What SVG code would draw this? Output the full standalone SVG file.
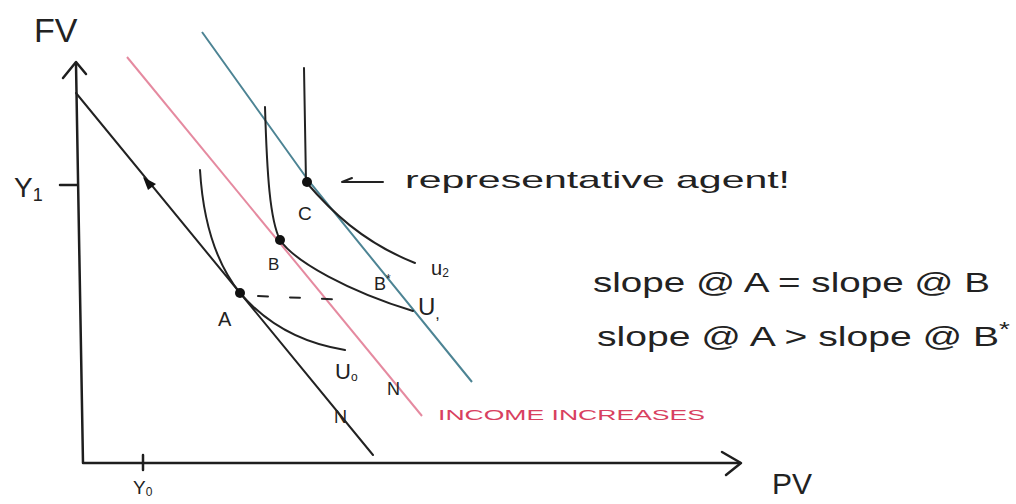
<svg xmlns="http://www.w3.org/2000/svg" width="1016" height="504" viewBox="0 0 1016 504">
<style>
.ax{stroke:#1e1e1e;stroke-width:2.5;fill:none;stroke-linecap:round;stroke-linejoin:round}
.blk{stroke:#222;stroke-width:2;fill:none;stroke-linecap:round}
.pink{stroke:#e58aa0;stroke-width:2;fill:none}
.blue{stroke:#4d8494;stroke-width:2;fill:none}
.t{font-family:"Liberation Sans",Arial,sans-serif;fill:#222}
.dot{fill:#111}
</style>
<rect width="1016" height="504" fill="#ffffff"/>
<g id="axes">
<path class="ax" d="M76,64 L83,463 L740,463"/>
<path class="ax" d="M63,78 L76,62 L86,74"/>
<path class="ax" d="M722,452 L741,463 L726,475"/>
<path class="ax" d="M60,185 L77,185"/>
<path class="ax" d="M143,455 L143,470"/>
<text class="t" x="34" y="42" font-size="34">FV</text>
<text class="t" x="772" y="494" font-size="30">PV</text>
<text class="t" x="14" y="197" font-size="28">Y<tspan font-size="18" dy="4">1</tspan></text>
<text class="t" x="133" y="494" font-size="19">Y<tspan font-size="12" dy="2">0</tspan></text>
</g>
<g id="connectors">
<path id="budget0" class="blk" d="M76,93 L373,455"/>
<path class="dot" d="M143,177 L156,184 L148,190 Z"/>
<path id="budget1" class="pink" d="M127,57 L422,416"/>
<path id="budget2" class="blue" d="M202,32 L308,180 L472,382"/>
<path id="U0curve" class="blk" d="M200,170 C203,220 215,262 240,293 C265,322 300,343 345,350"/>
<path id="U1curve" class="blk" d="M265,107 C267,175 270,220 280,240"/>
<path class="blk" stroke-width="3" d="M280,240 C295,262 350,292 413,311"/>
<path id="U2curve" class="blk" stroke-width="4" d="M304,68 L306,182"/>
<path class="blk" stroke-width="2.5" d="M306,182 C330,210 362,242 415,263"/>
<path class="blk" stroke="#888" stroke-width="1.5" stroke-dasharray="10,22" d="M258,296 L350,300"/>
<path class="blk" d="M342,182 L383,182 M342,182 L352,178"/>
</g>
<g id="pointA">
<circle class="dot" cx="240" cy="293" r="5"/>
<text class="t" x="218" y="326" font-size="20">A</text>
</g>
<g id="pointB">
<circle class="dot" cx="280" cy="240" r="5"/>
<text class="t" x="268" y="270" font-size="17">B</text>
</g>
<g id="pointC">
<circle class="dot" cx="307" cy="182" r="5"/>
<text class="t" x="298" y="220" font-size="19">C</text>
</g>
<g id="pointBstar">
<text class="t" x="374" y="290" font-size="18">B<tspan font-size="12" dy="-7">*</tspan></text>
</g>
<g id="labels">
<text class="t" x="335" y="379" font-size="22">U<tspan font-size="12" dy="2">o</tspan></text>
<text class="t" x="418" y="315" font-size="24">U<tspan font-size="16" dy="4">,</tspan></text>
<text class="t" x="431" y="275" font-size="20">u<tspan font-size="12" dy="2">2</tspan></text>
<text class="t" x="334" y="423" font-size="18">N</text>
<text class="t" x="387" y="395" font-size="18">N</text>
<text class="t" x="405" y="188" font-size="24" textLength="385" lengthAdjust="spacingAndGlyphs">representative agent!</text>
<text class="t" x="438" y="420" font-size="15" textLength="267" lengthAdjust="spacingAndGlyphs" style="fill:#d84060">INCOME INCREASES</text>
<text class="t" x="593" y="292" font-size="28" textLength="397" lengthAdjust="spacingAndGlyphs">slope @ A = slope @ B</text>
<text class="t" x="597" y="346" font-size="28" textLength="413" lengthAdjust="spacingAndGlyphs">slope @ A  &gt; slope @ B<tspan font-size="20" dy="-10">*</tspan></text>
</g>
</svg>
